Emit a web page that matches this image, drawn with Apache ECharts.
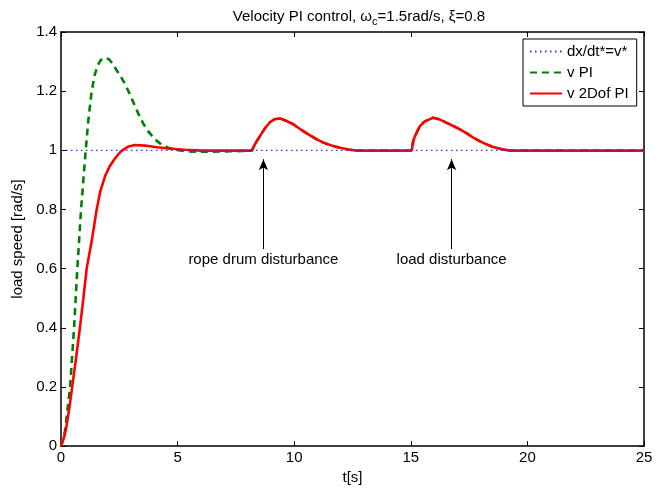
<!DOCTYPE html>
<html>
<head>
<meta charset="utf-8">
<script src="https://cdn.jsdelivr.net/npm/echarts@6/dist/echarts.min.js"></script>
<style>
  html, body { margin: 0; padding: 0; background: #fff; }
  #chart { width: 671px; height: 490px; }
</style>
</head>
<body>
<div id="chart"></div>
<script>
const FONT = '"Liberation Sans", Arial, Helvetica, sans-serif';

const xTicks = [0, 5, 10, 15, 20, 25];
const yTicks = [0, 0.2, 0.4, 0.6, 0.8, 1, 1.2, 1.4];

const legendNames = ['dx/dt*=v*', 'v PI', 'v 2Dof PI'];

// reference speed, [t, v]
const refSpeed = [[0, 1], [25, 1]];

// start-up of the plain PI loop (overshoot)
const piStartup = [
  [0, 0], [0.17, 0.05], [0.39, 0.2], [0.56, 0.4], [0.70, 0.6], [0.86, 0.8],
  [1.06, 1.0], [1.17, 1.10], [1.30, 1.19], [1.43, 1.25], [1.56, 1.285],
  [1.70, 1.305], [1.89, 1.313], [2.05, 1.308], [2.20, 1.295], [2.39, 1.27],
  [2.56, 1.25], [2.74, 1.225], [2.95, 1.19], [3.17, 1.15], [3.35, 1.118],
  [3.53, 1.09], [3.75, 1.063], [4.03, 1.037], [4.30, 1.02], [4.59, 1.009],
  [4.90, 1.002], [5.30, 0.997], [6.0, 0.995], [7.0, 0.996], [7.8, 0.998],
  [8.18, 0.999]
];

// start-up of the 2Dof PI loop
const dofStartup = [
  [0, 0], [0.05, 0.01], [0.15, 0.035], [0.24, 0.07], [0.36, 0.13], [0.48, 0.2],
  [0.65, 0.3], [0.81, 0.4], [0.96, 0.5], [1.10, 0.6], [1.33, 0.7], [1.53, 0.8],
  [1.68, 0.86], [1.89, 0.913], [2.08, 0.945], [2.29, 0.97], [2.45, 0.986],
  [2.60, 0.998], [2.90, 1.013], [3.17, 1.018], [3.60, 1.016], [4.03, 1.011],
  [4.60, 1.006], [5.32, 1.002], [6.0, 0.999], [8.18, 0.999]
];

// response to rope drum and load disturbances (same for both loops)
const disturbanceResponse = [
  [8.35, 1.025], [8.53, 1.048], [8.75, 1.075], [8.96, 1.095], [9.15, 1.105],
  [9.39, 1.108], [9.65, 1.10], [9.96, 1.088], [10.25, 1.072], [10.54, 1.057],
  [10.9, 1.04], [11.25, 1.026], [11.6, 1.016], [11.96, 1.009], [12.3, 1.003],
  [12.68, 0.999], [15.04, 0.999], [15.10, 1.03], [15.18, 1.048], [15.39, 1.082],
  [15.6, 1.098], [15.96, 1.11], [16.25, 1.104], [16.54, 1.093], [16.8, 1.083],
  [17.11, 1.071], [17.4, 1.057], [17.68, 1.043], [17.95, 1.031], [18.25, 1.02],
  [18.5, 1.012], [18.82, 1.005], [19.25, 0.999], [25, 0.999]
];

// annotation arrows: label, t, arrow bottom, arrow tip
const annotations = [
  ['rope drum disturbance', 8.68, 0.666, 0.97],
  ['load disturbance', 16.75, 0.666, 0.97]
];

const chart = echarts.init(document.getElementById('chart'));

const axisBase = {
  type: 'value',
  axisLine: { show: true, onZero: false, lineStyle: { color: '#000', width: 1.5 } },
  axisTick: { show: true, inside: true, length: 5, lineStyle: { color: '#000', width: 1 } },
  splitLine: { show: false },
};

chart.setOption({
  animation: false,
  backgroundColor: '#fff',
  title: {
    text: '{t|Velocity PI control, ω}{s|c}{t|=1.5rad/s, ξ=0.8}',
    left: 354,
    top: 2,
    textAlign: 'center',
    textStyle: {
      fontWeight: 'normal',
      rich: {
        t: { fontFamily: FONT, fontSize: 15, fontWeight: 'normal', color: '#000' },
        s: { fontFamily: FONT, fontSize: 11, fontWeight: 'normal', color: '#000', padding: [9, 0, 0, 0] },
      },
    },
  },
  legend: {
    data: legendNames,
    orient: 'vertical',
    left: 523,
    top: 39,
    itemWidth: 32,
    itemHeight: 14,
    itemGap: 6,
    padding: [5, 8, 5, 6],
    backgroundColor: '#fff',
    borderColor: '#000',
    borderWidth: 1,
    borderRadius: 0,
    itemStyle: { opacity: 0 },
    textStyle: { fontFamily: FONT, fontSize: 15, color: '#000', lineHeight: 14 },
  },
  grid: { left: 61, right: 27, top: 32, bottom: 43, containLabel: false },
  xAxis: [
    {
      ...axisBase,
      min: 0, max: 25, interval: 5,
      name: 't[s]',
      nameLocation: 'middle',
      nameGap: 22,
      nameTextStyle: { fontFamily: FONT, fontSize: 15, color: '#000' },
      axisLabel: {
        fontFamily: FONT, fontSize: 15, color: '#000', margin: 4,
        customValues: xTicks,
      },
    },
    {
      ...axisBase,
      position: 'top',
      min: 0, max: 25, interval: 5,
      axisLabel: { show: false },
    },
  ],
  yAxis: [
    {
      ...axisBase,
      min: 0, max: 1.4, interval: 0.2,
      name: 'load speed [rad/s]',
      nameLocation: 'middle',
      nameGap: 33,
      nameTextStyle: { fontFamily: FONT, fontSize: 15, color: '#000' },
      axisLabel: {
        fontFamily: FONT, fontSize: 15, color: '#000', margin: 4,
        customValues: yTicks,
      },
    },
    {
      ...axisBase,
      position: 'right',
      min: 0, max: 1.4, interval: 0.2,
      axisLabel: { show: false },
    },
  ],
  series: [
    {
      name: legendNames[0],
      type: 'line',
      z: 5,
      data: refSpeed,
      symbol: 'none',
      lineStyle: { color: '#3030ff', width: 1.2, type: [1.5, 3.5] },
      itemStyle: { color: '#3030ff' },
    },
    {
      name: legendNames[1],
      type: 'line',
      data: piStartup.concat(disturbanceResponse),
      symbol: 'none',
      lineStyle: { color: '#008000', width: 2.6, type: [7, 5] },
      itemStyle: { color: '#008000' },
    },
    {
      name: legendNames[2],
      type: 'line',
      z: 3,
      data: dofStartup.concat(disturbanceResponse),
      symbol: 'none',
      lineStyle: { color: '#ff0000', width: 2.6 },
      itemStyle: { color: '#ff0000' },
      markLine: {
        silent: true,
        symbol: ['none', 'arrow'],
        symbolSize: [7, 11],
        lineStyle: { color: '#000', width: 1, type: 'solid' },
        label: {
          show: true,
          position: 'start',
          distance: 3,
          formatter: '{b}',
          fontFamily: FONT,
          fontSize: 15,
          color: '#000',
        },
        data: annotations.map(([label, t, y0, y1]) => [
          { name: label, coord: [t, y0] },
          { coord: [t, y1] },
        ]),
      },
    },
  ],
});
</script>
</body>
</html>
